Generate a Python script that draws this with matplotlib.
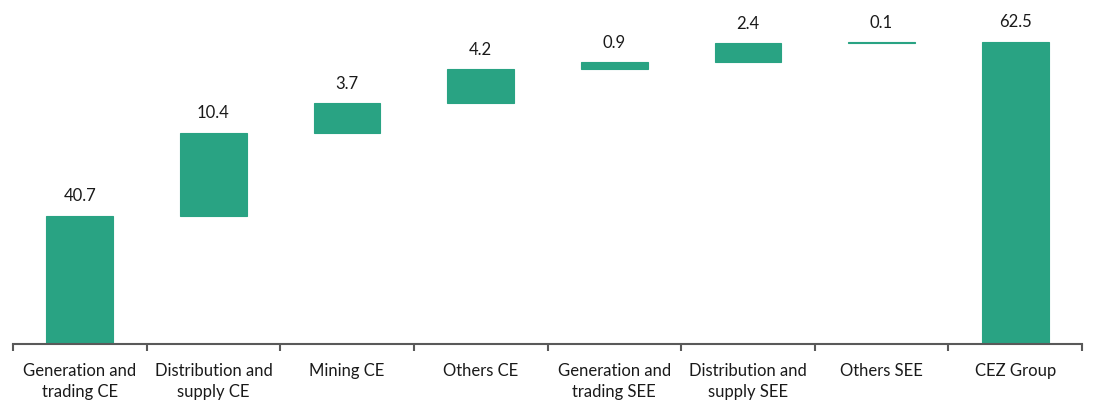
import matplotlib
matplotlib.use("Agg")
import matplotlib.pyplot as plt
import numpy as np

categories = ["Generation and\ntrading CE", "Distribution and\nsupply CE", "Mining CE", "Others CE",
              "Generation and\ntrading SEE", "Distribution and\nsupply SEE", "Others SEE", "CEZ Group"]
increments = [40.7, 10.4, 3.7, 4.2, 0.9, 2.4, 0.1]
total = 62.5
labels = ["40.7", "10.4", "3.7", "4.2", "0.9", "2.4", "0.1", "62.5"]

plt.rcParams['font.family'] = ['Lato', 'DejaVu Sans']
color = "#29A383"

fig = plt.figure(figsize=(10.96, 4.0), dpi=100)
ax = fig.add_axes([13/1096, 56/400, (1082-13)/1096, 334/400])

ymin = 24.6
x = np.arange(len(categories))
cum = np.cumsum(increments)
bottoms = list(np.concatenate([[ymin], cum[:-1]]))
heights = [cum[0] - ymin] + list(increments[1:])
bottoms.append(ymin)
heights.append(total - ymin)
tops = [b + h for b, h in zip(bottoms, heights)]

ax.bar(x, heights, bottom=bottoms, width=0.5, color=color, edgecolor=color, linewidth=0.8)
for xi, t, lab in zip(x, tops, labels):
    ax.annotate(lab, (xi, t), xytext=(0, 8), textcoords="offset points",
                ha="center", va="bottom", fontsize=12, color="#1a1a1a")

ax.set_xlim(-0.5, len(categories) - 0.5)
ax.set_ylim(ymin, 66.45)
for s in ["top", "right", "left"]:
    ax.spines[s].set_visible(False)
ax.spines["bottom"].set_color("#595959")
ax.spines["bottom"].set_linewidth(1.5)
ax.set_yticks([])
ax.set_xticks(x)
ax.set_xticklabels(categories, fontsize=12, color="#1a1a1a", linespacing=1.35)
ax.tick_params(axis="x", which="major", length=0, pad=14)
ax.set_xticks(np.arange(-0.5, len(categories)), minor=True)
ax.tick_params(axis="x", which="minor", length=5, width=1.5, color="#595959")

fig.savefig("out.png", dpi=100)
